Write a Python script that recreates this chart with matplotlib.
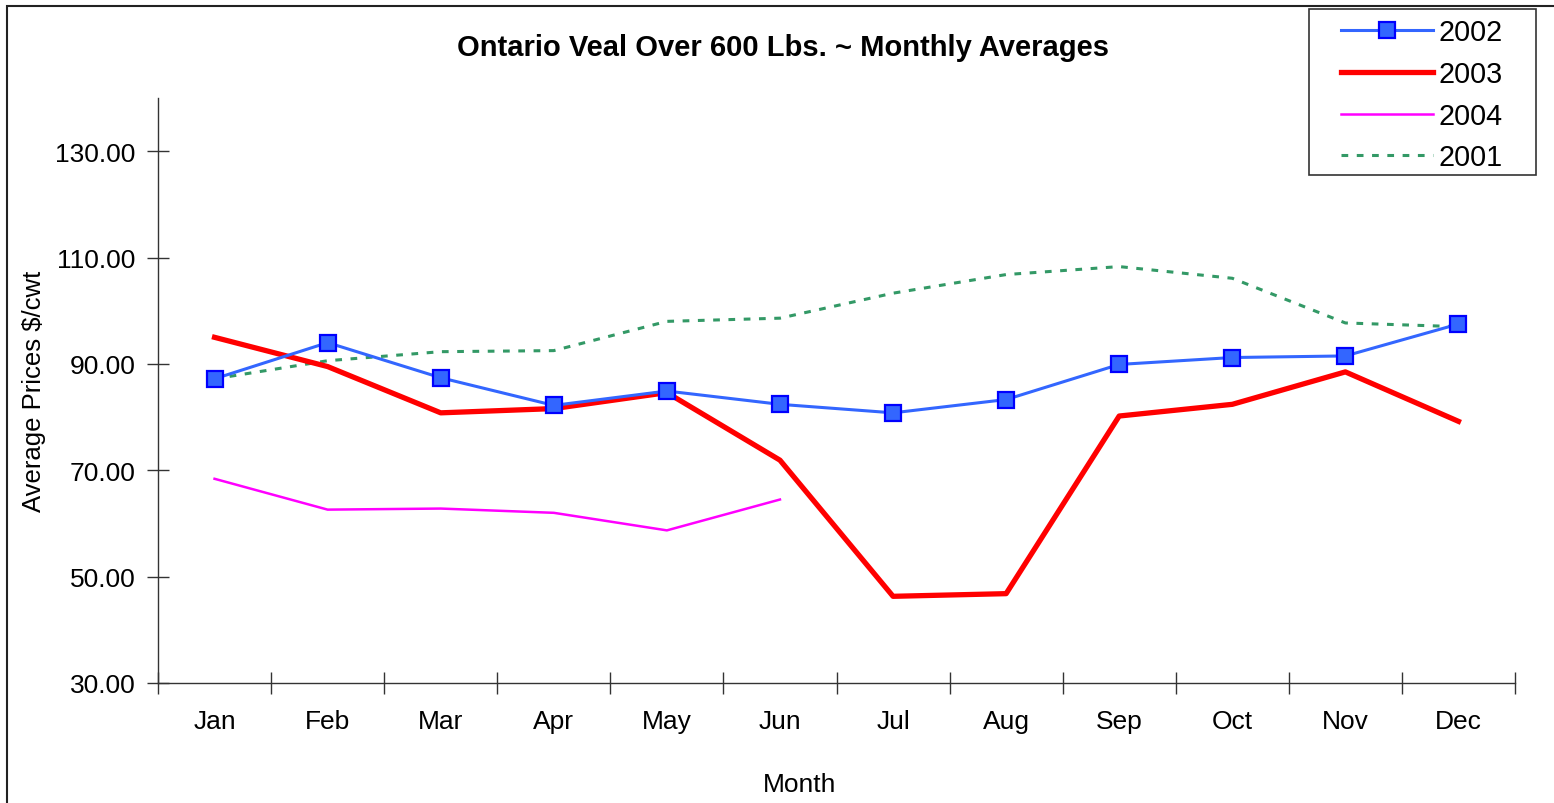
import matplotlib.pyplot as plt
from matplotlib.patches import Rectangle

plt.rcParams['font.family'] = ['Liberation Sans', 'DejaVu Sans']

months = ['Jan', 'Feb', 'Mar', 'Apr', 'May', 'Jun',
          'Jul', 'Aug', 'Sep', 'Oct', 'Nov', 'Dec']

prices_2002 = [87.2, 94.0, 87.4, 82.2, 84.9, 82.4, 80.8, 83.3, 89.9, 91.2, 91.5, 97.5]
prices_2003 = [95.0, 89.5, 80.8, 81.6, 84.6, 71.9, 46.3, 46.8, 80.2, 82.4, 88.5, 79.2]
prices_2004 = [68.4, 62.6, 62.8, 62.0, 58.7, 64.5]
prices_2001 = [87.2, 90.6, 92.3, 92.5, 98.0, 98.6, 103.3, 106.8, 108.3, 106.1, 97.7, 97.0]

x = [i + 0.5 for i in range(len(months))]

fig = plt.figure(figsize=(15.54, 8.04), dpi=100)
ax = fig.add_axes([158 / 1554, 1 - 684 / 804, (1515 - 158) / 1554, (684 - 99) / 804])

ax.plot(x, prices_2002, color='#3366FF', lw=2.2, marker='s', markersize=11.5,
        markerfacecolor='#3366FF', markeredgecolor='#0000FF', markeredgewidth=1.6,
        label='2002', zorder=4)
ax.plot(x, prices_2003, color='#FF0000', lw=3.8, label='2003', zorder=3)
ax.plot(x[:len(prices_2004)], prices_2004, color='#FF00FF', lw=1.8, label='2004', zorder=3)
ax.plot(x, prices_2001, color='#339966', lw=2.2, dashes=(2.2, 2.8), label='2001', zorder=2)

ax.set_xlim(0, 12)
ax.set_ylim(30, 140)
ax.set_yticks(range(30, 131, 20))
ax.set_yticklabels([f'{v:.2f}' for v in range(30, 131, 20)])
ax.set_xticks(range(0, 13))
ax.set_xticklabels([])
ax.set_xticks(x, minor=True)
ax.set_xticklabels(months, minor=True)
ax.tick_params(axis='x', which='minor', length=0, pad=19, labelsize=19)
ax.tick_params(axis='x', which='major', direction='inout', length=16, width=1, color='#333333')
ax.tick_params(axis='y', direction='inout', length=16, width=1, color='#333333', labelsize=19, pad=8)

for side in ['top', 'right']:
    ax.spines[side].set_visible(False)
for side in ['left', 'bottom']:
    ax.spines[side].set_color('#333333')
    ax.spines[side].set_linewidth(1)

ax.set_ylabel(r'Average Prices \$/cwt', fontsize=18.5, labelpad=7)
fig.text(800 / 1554, 1 - 785 / 804, 'Month', fontsize=19, ha='center', va='center')
fig.text(783 / 1554, 1 - 48 / 804, 'Ontario Veal Over 600 Lbs. ~ Monthly Averages',
         fontsize=21, fontweight='bold', ha='center', va='center')

leg = fig.legend(loc='upper left', bbox_to_anchor=(1341 / 1554, 1 - 19 / 804),
                 fontsize=20.7, frameon=False, handlelength=3.2,
                 handletextpad=0.2, labelspacing=0.48, borderpad=0, borderaxespad=0)

# legend box and outer chart border
fig.patches.append(Rectangle((1309 / 1554, 1 - 176 / 804), 227 / 1554, 166 / 804,
                             transform=fig.transFigure, fill=False,
                             edgecolor='#333333', lw=1.2))
fig.patches.append(Rectangle((7 / 1554, -0.2), 1.2, 1.2 - 7 / 804, transform=fig.transFigure,
                             fill=False, edgecolor='#222222', lw=1.5, clip_on=False))

fig.savefig('out.png')
